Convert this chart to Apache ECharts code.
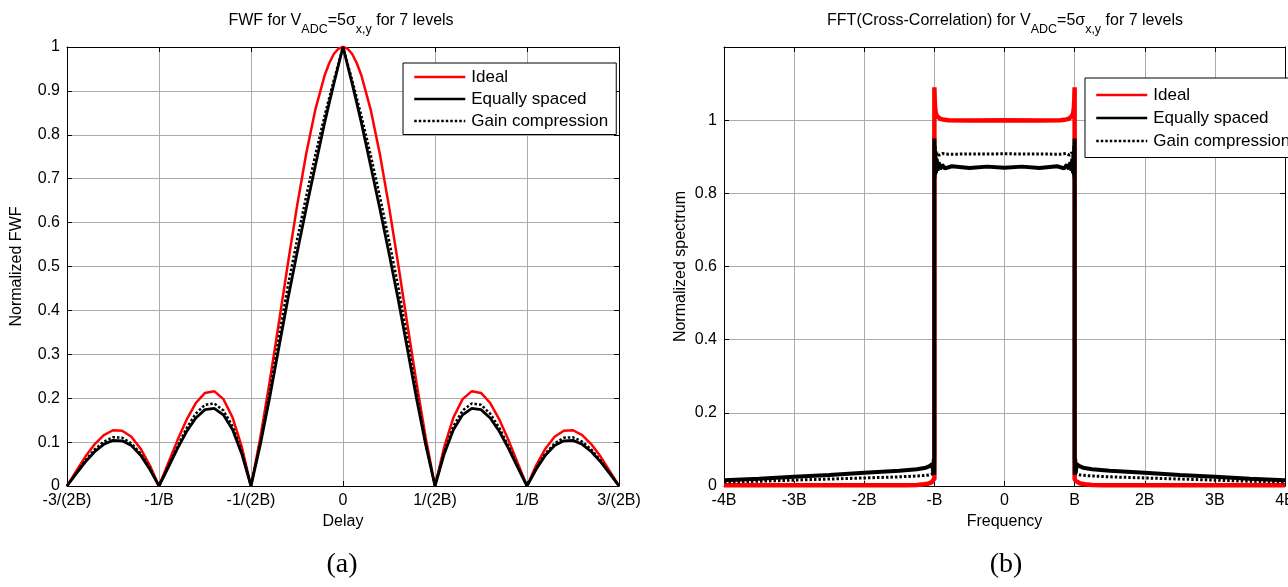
<!DOCTYPE html>
<html>
<head>
<meta charset="utf-8">
<script src="https://cdn.jsdelivr.net/npm/echarts@6/dist/echarts.min.js"></script>
<style>
html,body{margin:0;padding:0;background:#fff;}
#c{width:1288px;height:587px;}
</style>
</head>
<body>
<div id="c"></div>
<script>
// ---------- Panel (a): FWF vs delay (x in units of 1/(2B)) ----------
const delayX = [-3,-2.9,-2.8,-2.7,-2.6,-2.5,-2.4,-2.3,-2.2,-2.1,-2,-1.9,-1.8,-1.7,-1.6,-1.5,-1.4,-1.3,-1.2,-1.1,-1,-0.9,-0.8,-0.7,-0.6,-0.5,-0.4,-0.3,-0.2,-0.15,-0.1,-0.05,0,0.05,0.1,0.15,0.2,0.3,0.4,0.5,0.6,0.7,0.8,0.9,1,1.1,1.2,1.3,1.4,1.5,1.6,1.7,1.8,1.9,2,2.1,2.2,2.3,2.4,2.5,2.6,2.7,2.8,2.9,3];
const fwfIdeal = [0,0.034,0.067,0.095,0.116,0.127,0.126,0.112,0.085,0.047,0,0.052,0.104,0.151,0.189,0.212,0.216,0.198,0.156,0.089,0,0.109,0.234,0.368,0.505,0.637,0.757,0.858,0.935,0.963,0.984,0.996,1,0.996,0.984,0.963,0.935,0.858,0.757,0.637,0.505,0.368,0.234,0.109,0,0.089,0.156,0.198,0.216,0.212,0.189,0.151,0.104,0.052,0,0.047,0.085,0.112,0.126,0.127,0.116,0.095,0.067,0.034,0];
const fwfEqual = [0,0.028,0.055,0.078,0.095,0.104,0.103,0.092,0.070,0.038,0,0.042,0.085,0.124,0.155,0.174,0.177,0.162,0.128,0.073,0,0.093,0.198,0.312,0.425,0.53,0.632,0.73,0.827,0.872,0.916,0.958,1,0.958,0.916,0.872,0.827,0.73,0.632,0.53,0.425,0.312,0.198,0.093,0,0.073,0.128,0.162,0.177,0.174,0.155,0.124,0.085,0.042,0,0.038,0.070,0.092,0.103,0.104,0.095,0.078,0.055,0.028,0];
const fwfGain = [0,0.029,0.058,0.083,0.101,0.111,0.110,0.097,0.074,0.041,0,0.045,0.090,0.132,0.165,0.185,0.188,0.172,0.136,0.078,0,0.098,0.21,0.335,0.455,0.56,0.66,0.755,0.843,0.884,0.924,0.962,1,0.962,0.924,0.884,0.843,0.755,0.66,0.56,0.455,0.335,0.21,0.098,0,0.078,0.136,0.172,0.188,0.185,0.165,0.132,0.090,0.045,0,0.041,0.074,0.097,0.110,0.111,0.101,0.083,0.058,0.029,0];
const delayTickLabels = ['-3/(2B)','-1/B','-1/(2B)','0','1/(2B)','1/B','3/(2B)'];

// ---------- Panel (b): spectrum vs frequency (x in units of B) ----------
const specIdealX = [-4,-1.4,-1.25,-1.15,-1.08,-1.04,-1.015,-1,-1,-0.995,-0.99,-0.98,-0.965,-0.945,-0.92,-0.88,-0.8,-0.5,0,0.5,0.8,0.88,0.92,0.945,0.965,0.98,0.99,0.995,1,1,1.015,1.04,1.08,1.15,1.25,1.4,4];
const specIdealY = [0.002,0.002,0.003,0.005,0.007,0.010,0.014,0.02,1.09,1.055,1.035,1.02,1.012,1.007,1.004,1.002,1.0,0.999,1.0,0.999,1.0,1.002,1.004,1.007,1.012,1.02,1.035,1.055,1.09,0.02,0.014,0.010,0.007,0.005,0.003,0.002,0.002];
const specEqualX = [-4,-3.5,-3,-2.5,-2,-1.5,-1.25,-1.12,-1.06,-1.03,-1.015,-1.008,-1.003,-1,-1,-0.997,-0.994,-0.99,-0.985,-0.978,-0.968,-0.955,-0.94,-0.92,-0.89,-0.85,-0.75,-0.5,-0.25,0,0.25,0.5,0.75,0.85,0.89,0.92,0.94,0.955,0.968,0.978,0.985,0.99,0.994,0.997,1,1,1.003,1.008,1.015,1.03,1.06,1.12,1.25,1.5,2,2.5,3,3.5,4];
const specEqualY = [0.016,0.02,0.025,0.03,0.036,0.042,0.046,0.05,0.055,0.06,0.035,0.075,0.03,0.08,0.95,0.84,0.93,0.85,0.91,0.855,0.895,0.862,0.885,0.866,0.878,0.868,0.874,0.869,0.873,0.87,0.873,0.869,0.874,0.868,0.878,0.866,0.885,0.862,0.895,0.855,0.91,0.85,0.93,0.84,0.95,0.08,0.03,0.075,0.035,0.06,0.055,0.05,0.046,0.042,0.036,0.03,0.025,0.02,0.016];
const specGainX = [-4,-3.5,-3,-2.5,-2,-1.5,-1.2,-1.08,-1.03,-1,-1,-0.995,-0.99,-0.98,-0.96,-0.93,-0.88,-0.8,0,0.8,0.88,0.93,0.96,0.98,0.99,0.995,1,1,1.03,1.08,1.2,1.5,2,2.5,3,3.5,4];
const specGainY = [0.011,0.013,0.016,0.019,0.022,0.025,0.028,0.03,0.033,0.035,0.93,0.9,0.915,0.9,0.912,0.904,0.909,0.907,0.908,0.907,0.909,0.904,0.912,0.9,0.915,0.9,0.93,0.035,0.033,0.03,0.028,0.025,0.022,0.019,0.016,0.013,0.011];
const freqTickLabels = ['-4B','-3B','-2B','-B','0','B','2B','3B','4B'];

const seriesNames = ['Ideal','Equally spaced','Gain compression'];

// ---------- build ----------
const FONT = "'Liberation Sans', Arial, Helvetica, sans-serif";
const zip = (xs, ys) => xs.map((x, i) => [x, ys[i]]);
const chart = echarts.init(document.getElementById('c'));

function mainX(gi, min, max, labels, name) {
  return {
    gridIndex: gi, type: 'value', min: min, max: max, interval: 1, position: 'bottom',
    axisLine: {show: true, onZero: false, lineStyle: {color: '#000', width: 1}},
    axisTick: {show: true, inside: true, length: 5, lineStyle: {color: '#000'}},
    axisLabel: {show: true, color: '#000', fontSize: 16, fontFamily: FONT, margin: 7,
      showMinLabel: true, showMaxLabel: true,
      formatter: v => labels[Math.round(v - min)]},
    splitLine: {show: true, lineStyle: {color: '#ababab', width: 1}},
    name: name, nameLocation: 'middle', nameGap: 28,
    nameTextStyle: {color: '#000', fontSize: 16, fontFamily: FONT}
  };
}
function topX(gi, min, max) {
  return {
    gridIndex: gi, type: 'value', min: min, max: max, interval: 1, position: 'top',
    axisLine: {show: true, onZero: false, lineStyle: {color: '#000', width: 1}},
    axisTick: {show: true, inside: true, length: 5, lineStyle: {color: '#000'}},
    axisLabel: {show: false}, splitLine: {show: false}
  };
}
function mainY(gi, max, interval, name, gap) {
  return {
    gridIndex: gi, type: 'value', min: 0, max: max, interval: interval, position: 'left',
    axisLine: {show: true, onZero: false, lineStyle: {color: '#000', width: 1}},
    axisTick: {show: true, inside: true, length: 5, lineStyle: {color: '#000'}},
    axisLabel: {show: true, color: '#000', fontSize: 16, fontFamily: FONT, margin: 7,
      showMinLabel: true, showMaxLabel: true,
      formatter: v => (v > 1.05 ? '' : String(+v.toFixed(2)))},
    splitLine: {show: true, lineStyle: {color: '#ababab', width: 1}},
    name: name, nameLocation: 'middle', nameGap: gap,
    nameTextStyle: {color: '#000', fontSize: 16, fontFamily: FONT}
  };
}
function rightY(gi, max, interval) {
  return {
    gridIndex: gi, type: 'value', min: 0, max: max, interval: interval, position: 'right',
    axisLine: {show: true, onZero: false, lineStyle: {color: '#000', width: 1}},
    axisTick: {show: true, inside: true, length: 5, lineStyle: {color: '#000'}},
    axisLabel: {show: false}, splitLine: {show: false}
  };
}
function line(name, xi, yi, data, color, width, type, z) {
  return {
    name: name, type: 'line', xAxisIndex: xi, yAxisIndex: yi, data: data,
    symbol: 'none', showSymbol: false, clip: false, z: z,
    lineStyle: {color: color, width: width, type: type},
    itemStyle: {color: color}, emphasis: {disabled: true}
  };
}
function legendAt(left, top, pad, gap) {
  return {
    data: seriesNames, left: left, top: top, orient: 'vertical',
    itemWidth: 51, itemHeight: 14, itemGap: gap, padding: pad,
    borderColor: '#000', borderWidth: 1, backgroundColor: '#fff',
    selectedMode: false,
    itemStyle: {opacity: 0, borderWidth: 0},
    lineStyle: {width: 2.5},
    textStyle: {color: '#000', fontSize: 17, fontFamily: FONT, lineHeight: 17, padding: [0,0,0,1]}
  };
}
function titleText(x, y, pre) {
  return {
    type: 'text', x: x, y: y, z: 10,
    style: {
      text: '{m|' + pre + 'V}{s|ADC}{m|=5σ}{s|x,y}{m| for 7 levels}',
      align: 'center', verticalAlign: 'top', fill: '#000',
      rich: {
        m: {fontSize: 16, fontFamily: FONT, lineHeight: 18, verticalAlign: 'top', fill: '#000'},
        s: {fontSize: 12.5, fontFamily: FONT, lineHeight: 14, padding: [10,0,0,0], verticalAlign: 'top', fill: '#000'}
      }
    }
  };
}

const option = {
  animation: false,
  backgroundColor: '#fff',
  grid: [
    {left: 67, top: 47, width: 552, height: 439, containLabel: false, outerBoundsMode: 'none'},
    {left: 724, top: 47, width: 561, height: 439, containLabel: false, outerBoundsMode: 'none'}
  ],
  xAxis: [
    mainX(0, -3, 3, delayTickLabels, 'Delay'),
    topX(0, -3, 3),
    mainX(1, -4, 4, freqTickLabels, 'Frequency'),
    topX(1, -4, 4)
  ],
  yAxis: [
    mainY(0, 1, 0.1, 'Normalized FWF', 42),
    rightY(0, 1, 0.1),
    mainY(1, 1.2, 0.2, 'Normalized spectrum', 35),
    rightY(1, 1.2, 0.2)
  ],
  legend: [
    legendAt(403, 63, [5.5, 8, 5, 10], 5),
    legendAt(1085, 78, [8.5, 8, 8, 10], 6)
  ],
  series: [
    line(seriesNames[0], 0, 0, zip(delayX, fwfIdeal), '#ff0000', 2.5, 'solid', 3),
    line(seriesNames[1], 0, 0, zip(delayX, fwfEqual), '#000000', 2.8, 'solid', 4),
    line(seriesNames[2], 0, 0, zip(delayX, fwfGain), '#000000', 2.5, [2.5, 2], 5),
    line(seriesNames[0], 2, 2, zip(specIdealX, specIdealY), '#ff0000', 4.5, 'solid', 3),
    line(seriesNames[1], 2, 2, zip(specEqualX, specEqualY), '#000000', 4, 'solid', 4),
    line(seriesNames[2], 2, 2, zip(specGainX, specGainY), '#000000', 3, [2.5, 2], 5)
  ],
  graphic: [
    titleText(341, 13, 'FWF for '),
    titleText(1005, 13, 'FFT(Cross-Correlation) for '),
    {type: 'text', x: 342, y: 565, style: {text: '(a)', align: 'center', verticalAlign: 'middle', fill: '#000', fontSize: 28, fontFamily: "'Liberation Serif', 'Times New Roman', serif"}},
    {type: 'text', x: 1006, y: 565, style: {text: '(b)', align: 'center', verticalAlign: 'middle', fill: '#000', fontSize: 28, fontFamily: "'Liberation Serif', 'Times New Roman', serif"}}
  ]
};
chart.setOption(option);
</script>
</body>
</html>
